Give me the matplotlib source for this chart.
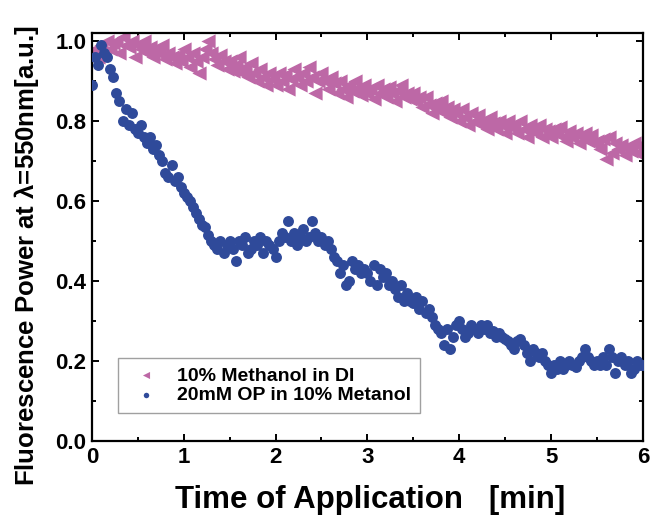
import numpy as np
import matplotlib.pyplot as plt
from matplotlib.ticker import MultipleLocator

# sampling interval of the time axis [min]
t_step = 1.0 / 30

# 10% Methanol in DI
methanol = [
    0.97, 0.98, 0.96, 0.99, 0.97, 1.00, 0.98, 0.995, 1.00, 0.97, 1.01, 0.99, 0.985, 1.00, 0.96,
    0.99, 0.98, 1.00, 0.97, 0.985, 0.96, 0.98, 0.97, 0.99, 0.955, 0.97, 0.96, 0.945, 0.965, 0.95,
    0.98, 0.96, 0.935, 0.97, 0.95, 0.92, 0.96, 0.98, 1.00, 0.97, 0.955, 0.94, 0.965, 0.95, 0.93,
    0.95, 0.925, 0.94, 0.96, 0.92, 0.935, 0.91, 0.945, 0.92, 0.90, 0.93, 0.91, 0.89, 0.92, 0.905,
    0.89, 0.92, 0.90, 0.915, 0.88, 0.905, 0.93, 0.91, 0.89, 0.92, 0.90, 0.935, 0.91, 0.87, 0.90,
    0.92, 0.90, 0.88, 0.91, 0.895, 0.87, 0.90, 0.88, 0.86, 0.89, 0.875, 0.90, 0.88, 0.865, 0.89,
    0.87, 0.88, 0.855, 0.89, 0.87, 0.88, 0.86, 0.885, 0.87, 0.85, 0.875, 0.89, 0.86, 0.87, 0.855,
    0.87, 0.85, 0.86, 0.835, 0.86, 0.84, 0.82, 0.845, 0.83, 0.85, 0.82, 0.835, 0.81, 0.83, 0.82,
    0.80, 0.83, 0.81, 0.79, 0.82, 0.80, 0.815, 0.79, 0.80, 0.78, 0.81, 0.795, 0.78, 0.80, 0.79,
    0.77, 0.80, 0.785, 0.79, 0.77, 0.80, 0.78, 0.76, 0.79, 0.775, 0.77, 0.79, 0.76, 0.78, 0.775,
    0.76, 0.78, 0.77, 0.785, 0.76, 0.75, 0.775, 0.76, 0.77, 0.745, 0.76, 0.77, 0.75, 0.765, 0.745,
    0.75, 0.73, 0.755, 0.705, 0.76, 0.72, 0.745, 0.73, 0.74, 0.715, 0.735, 0.725, 0.745, 0.72, 0.74, 0.725,
]

# 20mM OP in 10% Metanol
op = [
    0.89, 0.96, 0.94, 0.99, 0.97, 0.96, 0.93, 0.91, 0.87, 0.85, 0.80, 0.83, 0.79, 0.82, 0.78,
    0.77, 0.79, 0.76, 0.745, 0.76, 0.73, 0.74, 0.715, 0.70, 0.67, 0.66, 0.69, 0.65, 0.66, 0.635,
    0.62, 0.61, 0.60, 0.585, 0.57, 0.555, 0.54, 0.535, 0.515, 0.50, 0.49, 0.48, 0.50, 0.47, 0.49,
    0.50, 0.48, 0.45, 0.50, 0.49, 0.51, 0.47, 0.48, 0.50, 0.49, 0.51, 0.47, 0.50, 0.49, 0.48,
    0.46, 0.50, 0.52, 0.51, 0.55, 0.50, 0.52, 0.49, 0.51, 0.53, 0.50, 0.51, 0.55, 0.52, 0.50,
    0.51, 0.49, 0.50, 0.48, 0.46, 0.45, 0.42, 0.44, 0.39, 0.40, 0.45, 0.43, 0.44, 0.42, 0.43,
    0.42, 0.40, 0.44, 0.39, 0.43, 0.41, 0.42, 0.39, 0.40, 0.38, 0.36, 0.39, 0.35, 0.37, 0.35,
    0.345, 0.36, 0.33, 0.35, 0.32, 0.33, 0.31, 0.29, 0.28, 0.27, 0.24, 0.28, 0.23, 0.26, 0.29,
    0.30, 0.28, 0.26, 0.27, 0.29, 0.28, 0.27, 0.29, 0.28, 0.29, 0.27, 0.275, 0.26, 0.27, 0.26,
    0.255, 0.25, 0.24, 0.23, 0.25, 0.255, 0.24, 0.22, 0.20, 0.23, 0.22, 0.21, 0.22, 0.20, 0.19,
    0.17, 0.19, 0.18, 0.20, 0.18, 0.19, 0.20, 0.19, 0.185, 0.20, 0.21, 0.23, 0.21, 0.20, 0.19,
    0.20, 0.19, 0.21, 0.19, 0.23, 0.21, 0.17, 0.20, 0.21, 0.19, 0.20, 0.17, 0.18, 0.20, 0.19, 0.19,
]

t_meth = np.arange(len(methanol)) * t_step
t_op = np.arange(len(op)) * t_step

plt.rcParams['font.family'] = ['Liberation Sans', 'DejaVu Sans']
plt.rcParams['font.weight'] = 'bold'

fig = plt.figure(figsize=(6.52, 5.21), dpi=100)
ax = fig.add_axes([0.141, 0.1536, 0.845, 0.783])

ax.scatter(t_meth, methanol, marker='<', s=105, color='#BD68A6', linewidths=0,
           label='10% Methanol in DI', zorder=2)
ax.scatter(t_op, op, marker='o', s=62, color='#2F4A9A', linewidths=0,
           label='20mM OP in 10% Metanol', zorder=3)

ax.set_xlim(0, 6)
ax.set_ylim(0, 1.02)
ax.xaxis.set_major_locator(MultipleLocator(1))
ax.xaxis.set_minor_locator(MultipleLocator(0.5))
ax.yaxis.set_major_locator(MultipleLocator(0.2))
ax.yaxis.set_minor_locator(MultipleLocator(0.1))
ax.yaxis.set_major_formatter(plt.FormatStrFormatter('%.1f'))
ax.tick_params(which='both', direction='in', top=True, right=True, width=1.4)
ax.tick_params(which='major', length=5, labelsize=16, pad=4)
ax.tick_params(which='minor', length=3)
for sp in ax.spines.values():
    sp.set_linewidth(1.6)

leg = ax.legend(loc='lower left', bbox_to_anchor=(0.047, 0.068), fontsize=14,
                frameon=True, fancybox=False, edgecolor='#888888',
                handletextpad=0.6, borderpad=0.45, labelspacing=0.12,
                markerscale=0.5, borderaxespad=0)
leg.get_frame().set_linewidth(1.0)

fig.text(0.040, 0.51, 'Fluorescence Power at $\\mathregular{\\lambda}$=550nm[a.u.]', rotation=90,
         ha='center', va='center', fontsize=18.5, fontweight='bold')
fig.text(0.567, 0.04, 'Time of Application   [min]', ha='center', va='center',
         fontsize=22.5, fontweight='bold')

fig.savefig('out.png', dpi=100)
